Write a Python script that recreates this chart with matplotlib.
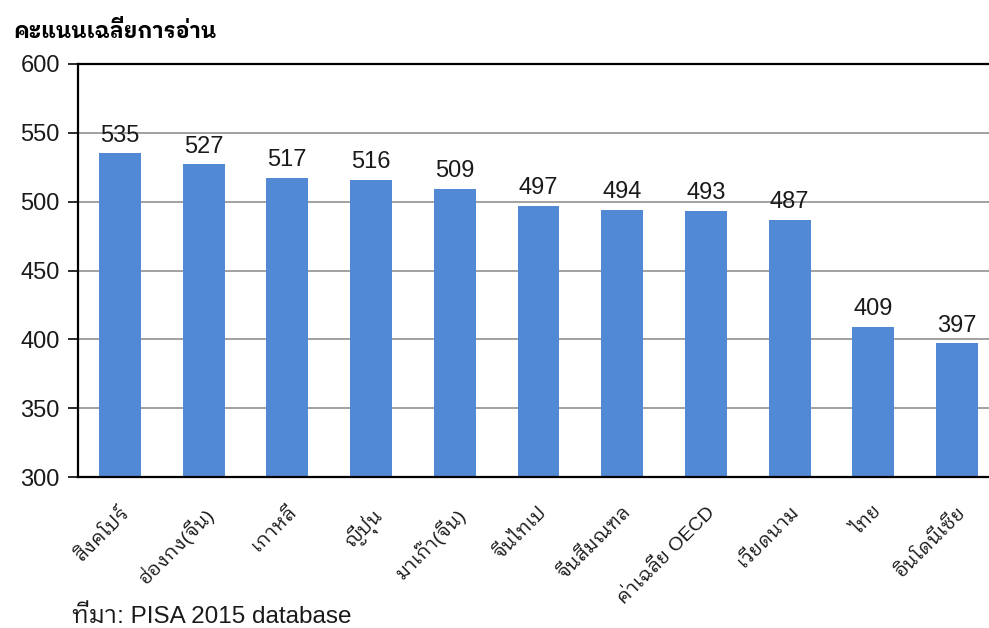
import matplotlib
matplotlib.use("Agg")
import matplotlib.pyplot as plt

categories = ["สิงคโปร์", "ฮ่องกง(จีน)", "เกาหลี", "ญี่ปุ่น", "มาเก๊า(จีน)", "จีนไทเป",
              "จีนสี่มณฑล", "ค่าเฉลี่ย OECD", "เวียดนาม", "ไทย", "อินโดนีเซีย"]
values = [535, 527, 517, 516, 509, 497, 494, 493, 487, 409, 397]
yticks = [300, 350, 400, 450, 500, 550, 600]
title = "คะแนนเฉลี่ยการอ่าน"
source = "ที่มา: PISA 2015 database"

plt.rcParams['font.family'] = ['Liberation Sans', 'IBM Plex Sans Thai Looped', 'DejaVu Sans']

fig = plt.figure(figsize=(9.89, 6.28), dpi=100)
ax = fig.add_axes([78/989, 1-477/628, 921/989, 413/628])
x = list(range(len(values)))
ax.bar(x, values, width=0.5, color="#5189d4", zorder=2)
ax.set_ylim(300, 600)
ax.set_xlim(-0.5, len(values)-0.5)
ax.set_yticks(yticks)
ax.tick_params(axis='y', labelsize=17, length=7, width=1.3, direction='out', pad=6, colors='#1a1a1a')
ax.tick_params(axis='x', length=0, pad=19)
ax.set_xticks(x)
ax.set_xticklabels(categories, rotation=45, ha='right', rotation_mode='anchor', fontsize=14, color='#1a1a1a')
ax.yaxis.grid(True, color="#9a9a9a", linewidth=1.3, zorder=0)
for s in ['left', 'bottom', 'top']:
    ax.spines[s].set_color('black')
    ax.spines[s].set_linewidth(1.6)
ax.spines['right'].set_visible(False)
for i, v in enumerate(values):
    ax.text(i, v + 5, str(v), ha='center', va='bottom', fontsize=17, color='#1a1a1a')
fig.text(13/989, 1-32/628, title, fontsize=15.5, fontweight='bold', va='center', ha='left')
fig.text(72/989, 1-617/628, source, fontsize=17.5, va='center', ha='left', color='#1a1a1a')
fig.savefig("out.png", dpi=100)
